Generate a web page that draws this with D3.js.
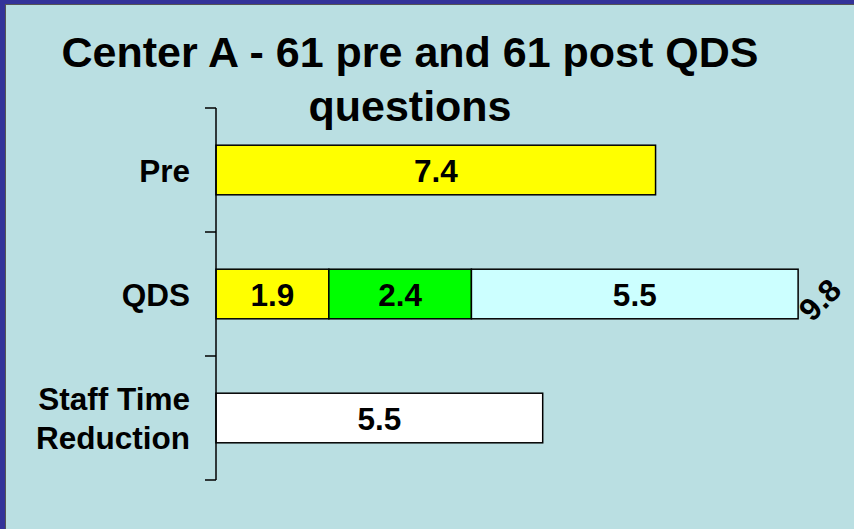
<!DOCTYPE html>
<html><head><meta charset="utf-8">
<script src="https://cdn.jsdelivr.net/npm/d3@7"></script>
<style>html,body{margin:0;padding:0;background:#BADFE2;overflow:hidden}</style>
</head><body>
<script>
const categories = ["Pre", "QDS", "Staff Time Reduction"];
const categoryLines = [["Pre"], ["QDS"], ["Staff Time", "Reduction"]];
const preValues = [7.4];
const qdsSegments = [1.9, 2.4, 5.5];
const qdsTotal = 9.8;
const staffValues = [5.5];
const titleLines = ["Center A - 61 pre and 61 post QDS", "questions"];

const W = 854, H = 529;
const svg = d3.select("body").append("svg").attr("width", W).attr("height", H);
svg.append("rect").attr("width", W).attr("height", H).attr("fill", "#BADFE2");
// frame
svg.append("rect").attr("x", 0).attr("y", 0).attr("width", W).attr("height", 4).attr("fill", "#333399");
svg.append("rect").attr("x", 0).attr("y", 0).attr("width", 5).attr("height", H).attr("fill", "#333399");
svg.append("line").attr("x1", 5).attr("x2", W).attr("y1", 4.5).attr("y2", 4.5).attr("stroke", "#555").attr("stroke-width", 1);
svg.append("line").attr("x1", 5.5).attr("x2", 5.5).attr("y1", 4).attr("y2", H).attr("stroke", "#555").attr("stroke-width", 1);

const font = "'Liberation Sans', Arial, sans-serif";
const fs = 31.5;
const x = d3.scaleLinear().domain([0, 10]).range([216, 810]);
const y = d3.scaleBand().domain(categories).range([108, 480]).paddingInner(0.6).paddingOuter(0.3);

// title
svg.append("text").attr("x", 410).attr("font-family", font).attr("font-weight", "bold")
  .attr("font-size", 43).attr("text-anchor", "middle").attr("fill", "#000")
  .selectAll("tspan").data(titleLines).join("tspan")
  .attr("x", 410).attr("y", (d, i) => 67 + i * 54).text(d => d);

// bars
const rows = [
  {cat: "Pre", segs: preValues, colors: ["#FFFF00"]},
  {cat: "QDS", segs: qdsSegments, colors: ["#FFFF00", "#00FF00", "#CCFFFF"]},
  {cat: "Staff Time Reduction", segs: staffValues, colors: ["#FFFFFF"]}
];
rows.forEach(r => {
  let acc = 0;
  r.segs.forEach((v, i) => {
    const x0 = x(acc), x1 = x(acc + v);
    svg.append("rect").attr("x", x0).attr("y", y(r.cat)).attr("width", x1 - x0)
      .attr("height", y.bandwidth()).attr("fill", r.colors[i]).attr("stroke", "#000").attr("stroke-width", 1.5);
    svg.append("text").attr("x", (x0 + x1) / 2).attr("y", y(r.cat) + y.bandwidth() / 2 + 11.5)
      .attr("text-anchor", "middle").attr("font-family", font).attr("font-weight", "bold")
      .attr("font-size", fs).text(v.toFixed(1));
    acc += v;
  });
});
// total label rotated
{
  const ox = x(qdsTotal) + 14, oy = y("QDS") + y.bandwidth() / 2 + 29;
  svg.append("text").attr("transform", `translate(${ox},${oy}) rotate(-45)`)
    .attr("font-family", font).attr("font-weight", "bold").attr("font-size", fs).text(qdsTotal.toFixed(1));
}

// axis
const ax = svg.append("g").attr("transform", "translate(216,0)");
ax.append("line").attr("x1", 0).attr("x2", 0).attr("y1", 108).attr("y2", 480).attr("stroke", "#000").attr("stroke-width", 1.5);
const bounds = [108].concat(categories.map(c => y(c) + y.bandwidth() + (y.step() - y.bandwidth()) / 2));
ax.selectAll("line.tick").data(bounds).join("line").attr("class", "tick")
  .attr("x1", -11).attr("x2", 0).attr("y1", d => d).attr("y2", d => d).attr("stroke", "#000").attr("stroke-width", 1.5);

// category labels
categories.forEach((c, i) => {
  const lines = categoryLines[i];
  const cy = y(c) + y.bandwidth() / 2;
  const lh = 39;
  const t = svg.append("text").attr("text-anchor", "end").attr("font-family", font)
    .attr("font-weight", "bold").attr("font-size", fs);
  lines.forEach((l, j) => {
    t.append("tspan").attr("x", 190).attr("y", cy + 11.5 + (j - (lines.length - 1) / 2) * lh).text(l);
  });
});
</script>
</body></html>
